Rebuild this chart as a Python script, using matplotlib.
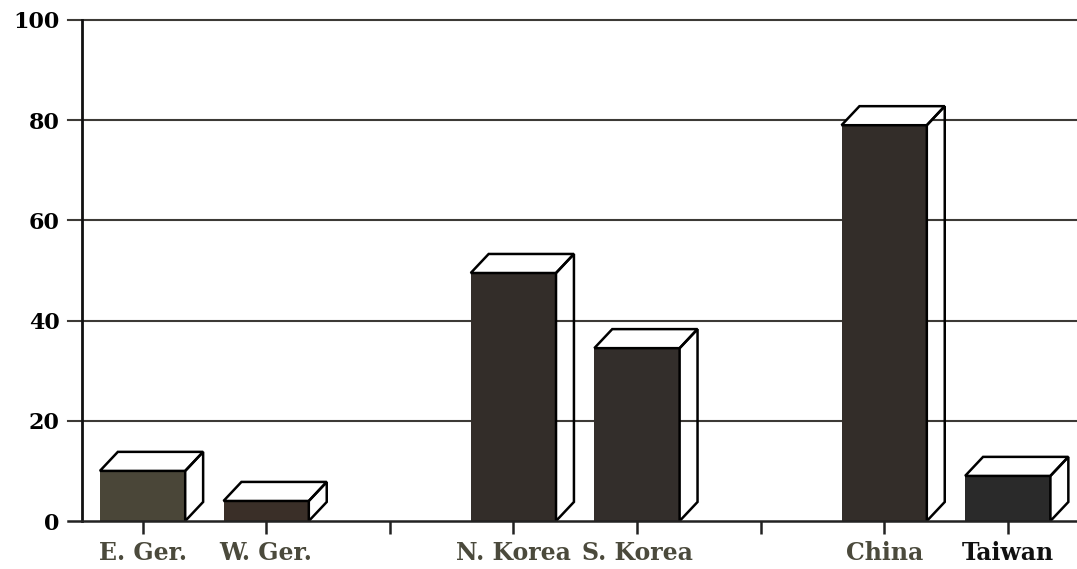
import matplotlib as mpl
mpl.use('Agg')
import matplotlib.pyplot as plt
from matplotlib.patches import Rectangle, Polygon

countries = ['E. Ger.', 'W. Ger.', '', 'N. Korea', 'S. Korea', '', 'China', 'Taiwan']
values = [10, 4, None, 49.5, 34.5, None, 79, 9]
front_colors = ['#4a4638', '#3a2f28', None, '#332d29', '#332e2b', None, '#332d29', '#2a2a2a']
label_colors = ['#4b4a3c', '#4b4a3c', None, '#4b4a3c', '#4b4a3c', None, '#4b4a3c', '#111111']

plt.rcParams['font.family'] = ['DejaVu Serif']
plt.rcParams['font.weight'] = 'bold'

fig = plt.figure(figsize=(10.77, 5.69), dpi=100)
ax = fig.add_axes([82/1077, 48/569, 1 - 82/1077, 501/569])

w = 0.69      # front face width (slot units)
dx = 0.145    # depth offset in x
dy = 3.8      # depth offset in y

for i, v in enumerate(values):
    if v is None:
        continue
    x0 = i - w/2
    x1 = i + w/2
    ax.add_patch(Rectangle((x0, 0), w, v, facecolor=front_colors[i],
                           edgecolor='none', zorder=3))
    # top face
    ax.add_patch(Polygon([(x0, v), (x1, v), (x1+dx, v+dy), (x0+dx, v+dy)],
                         closed=True, facecolor='white', edgecolor='black',
                         lw=1.8, zorder=4, clip_on=False))
    # side face
    ax.add_patch(Polygon([(x1, 0), (x1+dx, dy), (x1+dx, v+dy), (x1, v)],
                         closed=True, facecolor='none', edgecolor='black',
                         lw=1.8, zorder=4, clip_on=False))

ax.set_xlim(-0.49, 7.56)
ax.set_ylim(0, 100)

for y in [20, 40, 60, 80, 100]:
    ax.plot([-0.6, 7.56], [y, y], color='#3d3a36', lw=1.5, zorder=1, clip_on=False)
ax.plot([-0.6, 7.56], [0, 0], color='#222222', lw=1.8, zorder=5, clip_on=False)

for s in ['top', 'right', 'bottom']:
    ax.spines[s].set_visible(False)
ax.spines['left'].set_linewidth(2)
ax.spines['left'].set_color('#111111')

ax.set_yticks([0, 20, 40, 60, 80, 100])
ax.set_yticklabels(['0', '20', '40', '60', '80', '100'], fontsize=16, fontweight='bold')
ax.tick_params(axis='y', length=0, pad=16)

ax.set_xticks(range(len(countries)))
ax.set_xticklabels([])
ax.tick_params(axis='x', length=9, width=1.8, color='#222222', direction='out', pad=4)

for i, name in enumerate(countries):
    if name:
        ax.text(i, -4, name, ha='center', va='top', fontsize=17,
                fontweight='bold', color=label_colors[i], clip_on=False)

fig.savefig('out.png', dpi=100)
